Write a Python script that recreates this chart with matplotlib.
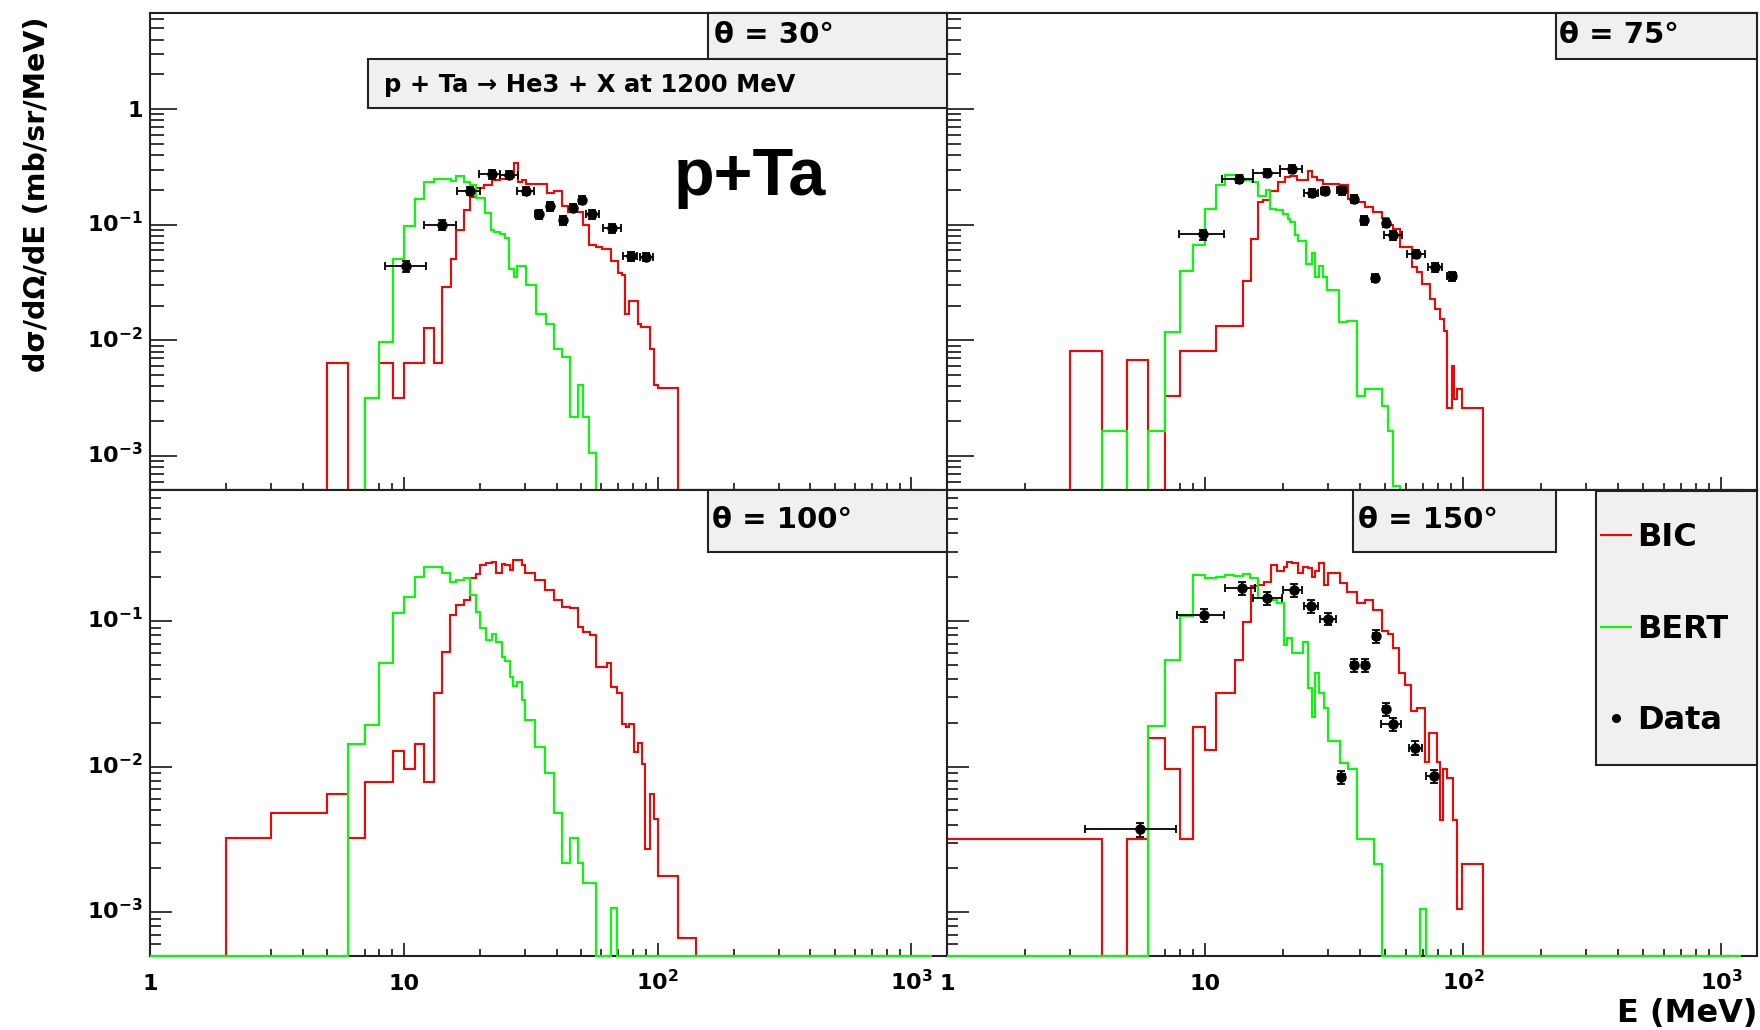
#!/usr/bin/env python3
"""p + Ta -> He3 + X at 1200 MeV: BIC / BERT spectra vs data at four angles."""

import matplotlib

matplotlib.use("Agg")
import matplotlib.pyplot as plt
import matplotlib.transforms as mtransforms
import numpy as np
from matplotlib.lines import Line2D
from matplotlib.patches import Rectangle

# ---------------------------------------------------------------- data
# theta = 30 deg
TL_BIC_EDGES = [1, 5, 6, 7, 8, 9.1, 10, 12, 13.1, 14.2, 15.3, 16.1, 17.2, 18.2, 19.2, 20.6,
                22.3, 24, 25.9, 27.1, 28.2, 29.3, 30.4, 36.5, 39, 42, 44.4, 50.8, 53.5, 56.9,
                60.4, 65.6, 69.8, 72.4, 74.6, 77.4, 83.7, 86, 93, 96.5, 100, 120, 1200]
TL_BIC = [0, 6.4e-3, 0, 3.2e-3, 6.4e-3, 3.2e-3, 6.4e-3, 0.0129, 6.4e-3, 0.0288, 0.0507,
          0.091, 0.133, 0.175, 0.21, 0.219, 0.242, 0.25, 0.259, 0.345, 0.234, 0.246, 0.227,
          0.188, 0.195, 0.144, 0.129, 0.10, 0.0675, 0.064, 0.0611, 0.0484, 0.0381, 0.0364,
          0.0169, 0.0218, 0.0139, 0.013, 0.00835, 0.0041, 0.0039, 0]
TL_BERT_EDGES = [1, 7, 8, 9.1, 10, 11.1, 12, 13.1, 15.3, 16.1, 17.2, 18.2, 19.2, 20.8, 22,
                 22.7, 24, 25.1, 25.9, 27.1, 27.9, 30.3, 33.2, 36.4, 39, 42, 45.1, 48.4,
                 50.8, 53.8, 57, 1200]
TL_BERT = [0, 3.2e-3, 9.6e-3, 0.0507, 0.097, 0.166, 0.234, 0.247, 0.238, 0.265, 0.234,
           0.219, 0.172, 0.126, 0.091, 0.086, 0.0825, 0.0775, 0.0415, 0.0352, 0.0444, 0.030,
           0.0169, 0.0139, 0.0084, 0.0072, 0.00215, 0.0041, 0.00215, 0.00107, 0]
TL_E = [10.2, 14.2, 18.2, 22.3, 26.0, 30.3, 34.0, 37.8, 42.4, 46.4, 50.5, 55.2, 66.1, 78.6, 90.3]
TL_E_LO = [8.4, 12.0, 16.2, 19.7, 23.9, 28.0, 33.0, 36.8, 41.4, 45.4, 49.5, 52.0, 61.0, 73.0, 85.0]
TL_E_HI = [12.2, 16.0, 20.0, 23.9, 28.2, 32.6, 35.0, 38.8, 43.4, 47.4, 51.5, 58.8, 71.5, 83.0, 96.0]
TL_Y = [0.0438, 0.100, 0.196, 0.273, 0.270, 0.196, 0.123, 0.144, 0.109, 0.140, 0.163, 0.123,
        0.0935, 0.0535, 0.053]
TL_YERR = [0.0045, 0.009, 0.016, 0.022, 0.022, 0.016, 0.010, 0.012, 0.009, 0.012, 0.013,
           0.010, 0.008, 0.0045, 0.0045]

# theta = 75 deg
TR_BIC_EDGES = [1, 3, 4, 5, 6, 7, 8, 11, 14.1, 15.1, 16, 16.8, 17.9, 19.2, 20.4, 21.4, 22.7,
                24.0, 25.1, 25.9, 27.1, 28.7, 33.2, 35.9, 38.7, 41.7, 44.9, 48.4, 51.3, 53.7,
                57.0, 63.3, 66.2, 69.2, 74.5, 77.9, 81.5, 84.4, 86.9, 90.4, 92.5, 95, 99.4,
                120, 1200]
TR_BIC = [0, 8.1e-3, 0, 6.7e-3, 0, 3.3e-3, 8.1e-3, 0.0134, 0.0325, 0.0757, 0.157, 0.165,
          0.197, 0.234, 0.259, 0.263, 0.242, 0.246, 0.291, 0.259, 0.246, 0.227, 0.219, 0.168,
          0.157, 0.143, 0.130, 0.115, 0.0986, 0.0923, 0.064, 0.043, 0.0389, 0.0308, 0.0228,
          0.0187, 0.0153, 0.0121, 0.0026, 0.0060, 0.0031, 0.0038, 0.0026, 0]
TR_BERT_EDGES = [1, 4, 5, 6, 7, 8, 9, 10, 11, 12, 14.1, 15.2, 16, 17.2, 17.9, 18.9, 20.1,
                 20.9, 21.4, 22.3, 23.0, 24.7, 25.9, 26.7, 27.7, 28.7, 29.8, 33.2, 35.6,
                 38.9, 41.7, 48.4, 51.3, 53.7, 57, 1200]
TR_BERT = [0, 1.65e-3, 0, 1.65e-3, 0.0117, 0.0402, 0.0662, 0.136, 0.219, 0.268, 0.242,
           0.234, 0.176, 0.20, 0.138, 0.133, 0.125, 0.113, 0.105, 0.081, 0.073, 0.0459,
           0.0568, 0.0351, 0.0444, 0.0351, 0.027, 0.0143, 0.0147, 0.0033, 0.0038, 0.0027,
           0.00165, 0.00055, 0]
TR_E = [9.85, 13.6, 17.4, 21.7, 25.9, 29.2, 33.9, 37.8, 41.4, 45.6, 50.3, 53.7, 65.6, 77.9, 90.9]
TR_E_LO = [7.95, 11.6, 15.3, 19.5, 24.3, 28.2, 32.5, 36.8, 40.4, 44.6, 49.3, 49.5, 60.5, 73.5, 87.0]
TR_E_HI = [11.9, 15.3, 19.5, 23.8, 27.4, 30.3, 35.3, 38.8, 42.4, 46.6, 51.3, 58.0, 71.5, 83.0, 94.0]
TR_Y = [0.0824, 0.251, 0.281, 0.306, 0.19, 0.196, 0.198, 0.168, 0.109, 0.0347, 0.104, 0.0808,
        0.0561, 0.043, 0.0359]
TR_YERR = [0.008, 0.02, 0.023, 0.025, 0.016, 0.016, 0.016, 0.014, 0.009, 0.003, 0.009, 0.007,
           0.0047, 0.0036, 0.003]

# theta = 100 deg (no data)
BL_BIC_EDGES = [1, 2, 3, 5, 6, 7, 9.1, 10, 11.1, 12, 13.1, 14.1, 15.2, 16.1, 17.2, 18.2, 19.2,
                19.9, 21, 22.3, 23, 24.4, 25.1, 26.1, 27, 29.3, 30.1, 33, 36.1, 38.9, 42, 45,
                48.4, 50.8, 54.3, 57.2, 63.2, 65.7, 69.2, 72.4, 75.3, 77, 80.5, 83.4, 86.8,
                89.5, 93, 96.4, 100, 120, 141, 1200]
BL_BIC = [0, 3.21e-3, 4.82e-3, 6.44e-3, 3.21e-3, 7.87e-3, 0.0127, 9.57e-3, 0.0144, 7.87e-3,
          0.0318, 0.0615, 0.110, 0.129, 0.139, 0.196, 0.21, 0.241, 0.25, 0.256, 0.213, 0.248,
          0.241, 0.225, 0.262, 0.241, 0.213, 0.191, 0.163, 0.139, 0.125, 0.122, 0.0914,
          0.0845, 0.080, 0.0485, 0.0512, 0.0353, 0.0318, 0.0195, 0.0188, 0.0195, 0.0126,
          0.0145, 0.0105, 0.0027, 0.00644, 0.00434, 0.00177, 6.6e-4, 0]
BL_BERT_EDGES = [1, 6, 7, 8, 9.1, 10, 11.1, 12, 14.1, 15.2, 16.1, 17.2, 18.2, 19.2, 19.9, 21,
                 22.3, 23, 24.4, 25.1, 26.1, 27, 27.9, 29.3, 30.1, 33, 36.1, 38.9, 42, 45,
                 48.4, 50.8, 57.2, 65.7, 69.2, 1200]
BL_BERT = [0, 0.0144, 0.0193, 0.0512, 0.113, 0.147, 0.201, 0.236, 0.213, 0.186, 0.19, 0.196,
           0.151, 0.116, 0.0892, 0.074, 0.082, 0.0721, 0.0569, 0.053, 0.0414, 0.036, 0.0383,
           0.0286, 0.0209, 0.0137, 0.009, 0.0048, 0.00216, 0.00321, 0.00216, 0.00159, 0,
           0.00107, 0]

# theta = 150 deg
BR_BIC_EDGES = [1, 4, 5, 6, 7, 8, 9, 10, 11, 13.1, 14.1, 15.1, 16, 17, 18.1, 19.1, 20.2, 20.8,
                21.8, 22.9, 24, 25, 25.9, 26.8, 27.6, 28.9, 29.9, 33.4, 35.4, 38.7, 41.7,
                44.9, 48.4, 51.3, 53.7, 56.6, 59.6, 62.9, 66.2, 71.2, 74.0, 79.1, 81.5, 83.9,
                86.5, 91.7, 94.5, 98.8, 120, 1200]
BR_BIC = [3.16e-3, 0, 3.16e-3, 0.0156, 0.0096, 3.16e-3, 0.0188, 0.0129, 0.0318, 0.054, 0.099,
          0.174, 0.177, 0.186, 0.243, 0.22, 0.236, 0.256, 0.25, 0.213, 0.236, 0.23, 0.20,
          0.22, 0.25, 0.177, 0.213, 0.181, 0.158, 0.133, 0.139, 0.119, 0.0857, 0.081, 0.0649,
          0.044, 0.0362, 0.0239, 0.0252, 0.0107, 0.0171, 0.0107, 0.00428, 0.00955, 0.0083,
          0.00428, 0.00105, 0.00213, 0]
BR_BERT_EDGES = [1, 6, 7, 8, 9, 10, 11, 12, 13, 14, 15, 16, 18, 19, 20.2, 20.8, 21.8, 24, 25,
                 25.9, 26.8, 27.6, 28.9, 29.9, 33.3, 35.7, 39, 45.1, 48.5, 68.4, 71.8, 1200]
BR_BERT = [0, 0.0191, 0.0543, 0.109, 0.207, 0.197, 0.200, 0.208, 0.205, 0.21, 0.197, 0.145,
           0.14, 0.133, 0.0685, 0.076, 0.060, 0.072, 0.0344, 0.022, 0.0437, 0.0318, 0.0251,
           0.015, 0.0106, 0.0096, 0.00316, 0.00213, 0, 0.00105, 0]
BR_E = [5.59, 9.89, 13.9, 17.4, 22.2, 25.7, 29.9, 33.8, 37.8, 41.7, 46.0, 50.1, 53.8, 65.3, 77.1]
BR_E_LO = [3.44, 7.8, 12.0, 15.4, 20.0, 24.2, 27.8, 32.8, 36.8, 40.7, 45.0, 49.1, 48.3, 61.7, 71.6]
BR_E_HI = [7.7, 11.8, 15.6, 19.8, 23.7, 27.4, 32.1, 34.8, 38.8, 42.7, 47.0, 51.1, 57.3, 69.5, 79.5]
BR_Y = [3.7e-3, 0.11, 0.168, 0.143, 0.163, 0.127, 0.104, 0.0085, 0.0499, 0.0499, 0.0788,
        0.0247, 0.0196, 0.0135, 0.0086]
BR_YERR = [0.0004, 0.011, 0.017, 0.014, 0.016, 0.013, 0.010, 0.0009, 0.005, 0.005, 0.008,
           0.0025, 0.002, 0.0014, 0.0009]

ANGLES = ["θ = 30°", "θ = 75°", "θ = 100°", "θ = 150°"]
X_TICKS = [1, 10, 100, 1000]
X_TICK_LABELS = ["1", "10", r"$\mathbf{10^{2}}$", r"$\mathbf{10^{3}}$"]
Y_TICKS = [1, 0.1, 0.01, 0.001]
Y_TICK_LABELS = ["1", r"$\mathbf{10^{-1}}$", r"$\mathbf{10^{-2}}$", r"$\mathbf{10^{-3}}$"]

# ---------------------------------------------------------------- style
W, H, DPI = 1760, 1030, 100
RED = "#ff0000"
GREEN = "#00ff00"
BOX_FILL = "#f0f0f0"
XLIM = (1, 1380)
YLIM_TOP = (5.07e-4, 6.84)
YLIM_BOT = (5.0e-4, 0.794)

plt.rcParams["font.family"] = ["DejaVu Sans"]
plt.rcParams["font.weight"] = "bold"
plt.rcParams["mathtext.fontset"] = "dejavusans"


def _frac(x0, y0, x1, y1):
    """Pixel box (top-left origin) -> [left, bottom, width, height] in figure fraction."""
    return [x0 / W, 1 - y1 / H, (x1 - x0) / W, (y1 - y0) / H]


def _setup_axes(ax, ylim, ylen):
    ax.set_xscale("log")
    ax.set_yscale("log")
    ax.set_xlim(*XLIM)
    ax.set_ylim(*ylim)
    xminor = [m * 10**k for k in range(4) for m in range(2, 10) if m * 10**k < XLIM[1]]
    yminor = [m * 10.0**k for k in range(-4, 1) for m in range(2, 10)
              if ylim[0] < m * 10.0**k < ylim[1]]
    ax.set_xticks(X_TICKS)
    ax.set_xticks(xminor, minor=True)
    ax.set_yticks([t for t in Y_TICKS if t < ylim[1]])
    ax.set_yticks(yminor, minor=True)
    ax.tick_params(which="both", direction="in", labelbottom=False, labelleft=False,
                   width=1.1, color="black")
    ax.tick_params(axis="x", which="major", length=9.5)
    ax.tick_params(axis="x", which="minor", length=5)
    ax.tick_params(axis="y", which="major", length=ylen[0])
    ax.tick_params(axis="y", which="minor", length=ylen[1])
    for sp in ax.spines.values():
        sp.set_linewidth(1.5)
        sp.set_color("#222222")


def _hist(ax, edges, vals, color, bottom_visible, z):
    v = np.maximum(np.asarray(vals, float), ax.get_ylim()[0])
    ax.stairs(v, edges, baseline=None, color=color, lw=1.5, zorder=z,
              clip_on=not bottom_visible)


def _data(ax, e, lo, hi, y, yerr):
    e = np.asarray(e)
    xerr = [e - np.asarray(lo), np.asarray(hi) - e]
    ax.errorbar(e, y, xerr=xerr, yerr=yerr, fmt="o", color="black", ms=6.5,
                elinewidth=1.3, capsize=3, capthick=1.3, zorder=4)


def _xlabels(fig, ax):
    trans = mtransforms.offset_copy(ax.get_xaxis_transform(), fig=fig, x=0, y=-34, units="dots")
    for x, lab in zip(X_TICKS, X_TICK_LABELS):
        ax.text(x, 0, lab, transform=trans, ha="center", va="baseline", fontsize=16,
                fontweight="bold", clip_on=False)


def _ylabels(fig, ax):
    trans = mtransforms.offset_copy(ax.get_yaxis_transform(), fig=fig, x=-7, y=-7.5, units="dots")
    top = ax.get_ylim()[1]
    for y, lab in zip(Y_TICKS, Y_TICK_LABELS):
        if y < top:
            ax.text(0, y, lab, transform=trans, ha="right", va="baseline", fontsize=16,
                    fontweight="bold", clip_on=False)


def _box(fig, x0, y0, x1, y1):
    fig.add_artist(Rectangle((x0 / W, 1 - y1 / H), (x1 - x0) / W, (y1 - y0) / H,
                             transform=fig.transFigure, facecolor=BOX_FILL,
                             edgecolor="#222222", lw=1.5, zorder=5))


def _text(fig, x, y, s, size, **kw):
    fig.text(x / W, 1 - y / H, s, fontsize=size, fontweight="bold", va="baseline",
             zorder=6, **kw)


fig = plt.figure(figsize=(W / DPI, H / DPI), dpi=DPI)

panels = [
    ((150, 12.7, 947, 490), YLIM_TOP, (TL_BIC_EDGES, TL_BIC), (TL_BERT_EDGES, TL_BERT),
     (TL_E, TL_E_LO, TL_E_HI, TL_Y, TL_YERR)),
    ((947, 12.7, 1757, 490), YLIM_TOP, (TR_BIC_EDGES, TR_BIC), (TR_BERT_EDGES, TR_BERT),
     (TR_E, TR_E_LO, TR_E_HI, TR_Y, TR_YERR)),
    ((150, 490, 947, 956), YLIM_BOT, (BL_BIC_EDGES, BL_BIC), (BL_BERT_EDGES, BL_BERT), None),
    ((947, 490, 1757, 956), YLIM_BOT, (BR_BIC_EDGES, BR_BIC), (BR_BERT_EDGES, BR_BERT),
     (BR_E, BR_E_LO, BR_E_HI, BR_Y, BR_YERR)),
]

for i, (box, ylim, bic, bert, data) in enumerate(panels):
    ax = fig.add_axes(_frac(*box))
    bottom_row = i >= 2
    _setup_axes(ax, ylim, (15.5, 8) if bottom_row else (19.5, 10))
    _hist(ax, bic[0], bic[1], RED, False, 2)
    _hist(ax, bert[0], bert[1], GREEN, bottom_row, 3 if bottom_row else 2.1)
    if data:
        _data(ax, *data)
    if bottom_row:
        _xlabels(fig, ax)
    if i % 2 == 0:
        _ylabels(fig, ax)

# angle boxes
_box(fig, 707.5, 12.7, 947, 59.3)
_text(fig, 714, 43, ANGLES[0], 21)
_box(fig, 1555.6, 12.7, 1757, 59.3)
_text(fig, 1559, 43, ANGLES[1], 21)
_box(fig, 707.5, 490, 947, 552)
_text(fig, 712, 527.5, ANGLES[2], 21)
_box(fig, 1352.7, 490, 1556, 552)
_text(fig, 1358, 527.5, ANGLES[3], 21)

# reaction title
_box(fig, 368.4, 59.3, 947, 107.7)
_text(fig, 383.7, 91.7, "p + Ta → He3 + X at 1200 MeV", 17.5)

_text(fig, 673.8, 195, "p+Ta", 48, family="Liberation Sans")

# legend
_box(fig, 1595.7, 490.5, 1757, 764.8)
fig.add_artist(Line2D([1601 / W, 1631 / W], [1 - 535 / H] * 2, color=RED, lw=1.5, zorder=6))
fig.add_artist(Line2D([1601 / W, 1631 / W], [1 - 626.6 / H] * 2, color=GREEN, lw=1.5, zorder=6))
fig.add_artist(Line2D([1616 / W], [1 - 717.8 / H], marker="o", ms=5.5, color="black", zorder=6))
_text(fig, 1636.7, 546.5, "BIC", 23)
_text(fig, 1636.7, 638, "BERT", 23)
_text(fig, 1636.7, 729, "Data", 23)

# axis titles
fig.text(37 / W, 1 - 16.7 / H, "dσ/dΩ/dE (mb/sr/MeV)", rotation=90, ha="center", va="top",
         fontsize=20.5, fontweight="bold")
_text(fig, 1757, 1022, "E (MeV)", 23, ha="right")

fig.savefig("out.png", dpi=DPI, facecolor="white")
